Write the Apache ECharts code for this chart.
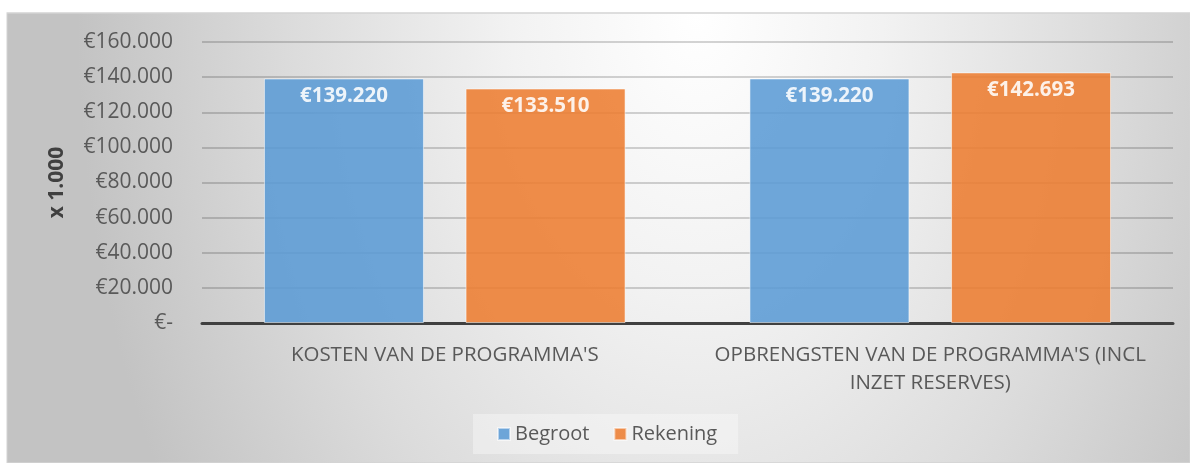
<!DOCTYPE html>
<html>
<head>
<meta charset="utf-8">
<script src="https://cdn.jsdelivr.net/npm/echarts@6/dist/echarts.min.js"></script>
<style>
html,body{margin:0;padding:0;background:#fff;}
#chart{width:1190px;height:463px;}
</style>
</head>
<body>
<div id="chart"></div>
<script>
var categories = ["KOSTEN VAN DE PROGRAMMA'S", "OPBRENGSTEN VAN DE PROGRAMMA'S (INCL\nINZET RESERVES)"];
var begroot = [139220, 139220];
var rekening = [133510, 142693];
var seriesNames = ['Begroot', 'Rekening'];
var yTicks = { min: 0, max: 160000, interval: 20000 };
var yAxisTitle = 'x 1.000';

function fmt(v) {
  if (v === 0) return '€-';
  return '€' + String(Math.round(v)).replace(/\B(?=(\d{3})+(?!\d))/g, '.');
}

var FONT = '"Open Sans", "Noto Sans", sans-serif';
var chart = echarts.init(document.getElementById('chart'), null, { renderer: 'canvas' });

var labelCfg = {
  show: true,
  position: 'insideTop',
  distance: 7,
  color: '#ffffff',
  fontFamily: FONT,
  fontWeight: 'bold',
  fontSize: 20.5,
  formatter: function (p) { return fmt(p.value); }
};

chart.setOption({
  animation: false,
  backgroundColor: '#ffffff',
  graphic: [{
    type: 'group',
    x: 7, y: 13,
    scaleY: 1.5,
    z: -10,
    silent: true,
    children: [{
      type: 'rect',
      shape: { x: 0, y: 0, width: 1183, height: 300 },
      style: {
        fill: {
          type: 'radial', x: 690, y: 0, r: 620, global: true,
          colorStops: [
            { offset: 0, color: '#ffffff' },
            { offset: 0.3, color: '#f2f2f2' },
            { offset: 0.65, color: '#dcdcdc' },
            { offset: 1, color: '#c3c3c3' }
          ]
        },
        stroke: '#d4d4d4',
        lineWidth: 1
      }
    }]
  }],
  grid: { left: 202, right: 17, top: 42, bottom: 140, containLabel: false },
  legend: {
    data: seriesNames,
    left: 473,
    top: 414,
    padding: [10, 21, 10, 24],
    backgroundColor: 'rgba(255,255,255,0.35)',
    itemWidth: 12,
    itemHeight: 12,
    itemGap: 24,
    icon: 'rect',
    textStyle: { color: '#595959', fontSize: 20, fontFamily: FONT }
  },
  xAxis: {
    type: 'category',
    data: categories,
    axisLine: { show: true, lineStyle: { color: '#404040', width: 3 } },
    axisTick: { show: false },
    axisLabel: {
      color: '#595959', fontSize: 20.5, fontFamily: FONT, margin: 18, lineHeight: 28, interval: 0
    },
    splitLine: { show: false }
  },
  yAxis: {
    type: 'value',
    min: yTicks.min, max: yTicks.max, interval: yTicks.interval,
    name: yAxisTitle,
    nameLocation: 'middle',
    nameGap: 134,
    nameTextStyle: { color: '#404040', fontSize: 21, fontWeight: 'bold', fontFamily: FONT },
    axisLine: { show: false },
    axisTick: { show: false },
    axisLabel: {
      color: '#595959', fontSize: 21, fontFamily: FONT, margin: 29,
      formatter: fmt
    },
    splitLine: { show: true, lineStyle: { color: 'rgba(0,0,0,0.17)', width: 2 } }
  },
  series: [
    {
      name: seriesNames[0], type: 'bar', data: begroot,
      barWidth: 160, barGap: '26%',
      itemStyle: { color: '#5b9bd5', opacity: 0.88, borderColor: 'rgba(255,255,255,0.6)', borderWidth: 1 },
      label: labelCfg
    },
    {
      name: seriesNames[1], type: 'bar', data: rekening,
      barWidth: 160,
      itemStyle: { color: '#ed7d31', opacity: 0.88, borderColor: 'rgba(255,255,255,0.6)', borderWidth: 1 },
      label: labelCfg
    }
  ]
});
</script>
</body>
</html>
